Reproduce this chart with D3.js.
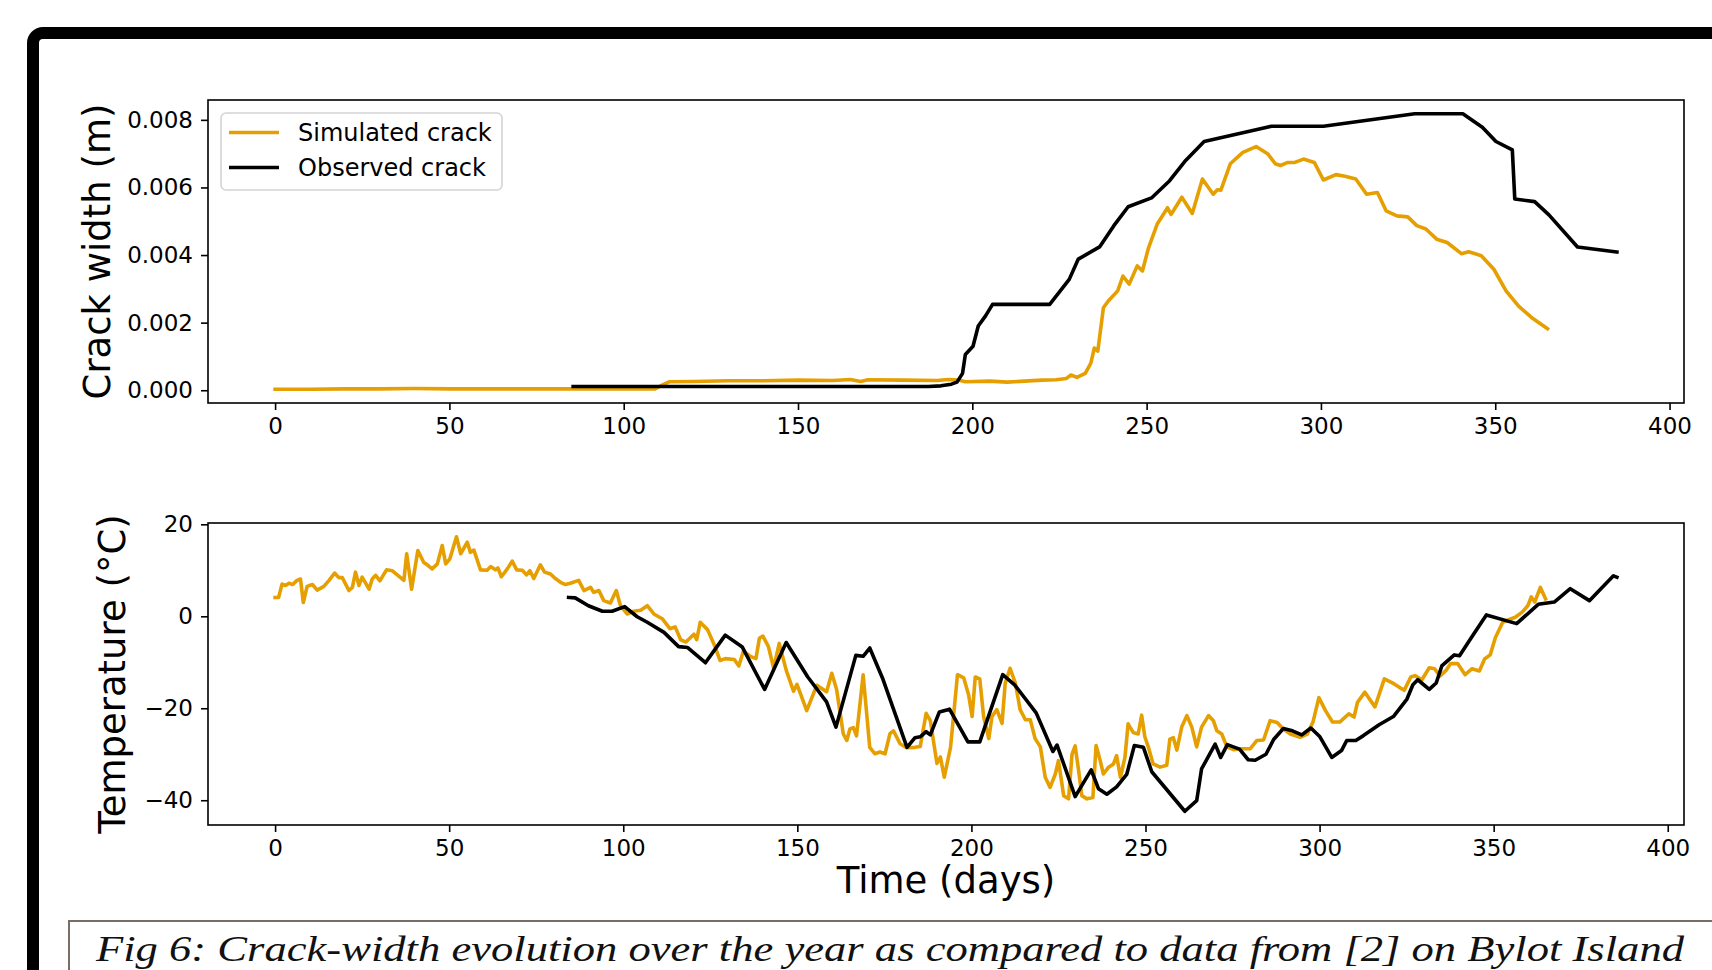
<!DOCTYPE html>
<html>
<head>
<meta charset="utf-8">
<script src="https://cdn.jsdelivr.net/npm/d3@7"></script>
<style>
  body { margin: 0; background: #fff; }
  svg { display: block; }
</style>
</head>
<body>
<svg id="fig"></svg>
<script>
// ---- data ----
var simCrackDays = [0, 10, 20, 30, 40, 50, 60, 70, 80, 90, 100, 109, 111, 113, 120, 130, 140, 150, 160, 165, 168, 170, 180, 190, 193, 196, 198, 205, 210, 215, 220, 224, 227, 228.3, 230, 232.4, 234, 235, 236, 237.6, 239, 241.7, 243.2, 245, 247.3, 248.8, 250.5, 253, 256, 257, 260.1, 263.1, 266, 269.1, 270.3, 271.3, 274, 277.6, 281.4, 284.8, 286.9, 288.4, 290.5, 292.5, 295, 298.1, 300.7, 304.3, 306.9, 310, 313.1, 316.2, 318.7, 321.8, 324.9, 327.5, 330.1, 333.2, 336.2, 340.3, 342.4, 346, 349.6, 353.1, 356.7, 360.8, 365];
var simCrackWidth = [0.00003, 0.00003, 0.00004, 0.00004, 0.00005, 0.00004, 0.00004, 0.00004, 0.00004, 0.00004, 0.00004, 0.00004, 0.00015, 0.00025, 0.00026, 0.00028, 0.00028, 0.00030, 0.00029, 0.00032, 0.00026, 0.00031, 0.00030, 0.00029, 0.00032, 0.00030, 0.00025, 0.00027, 0.00024, 0.00027, 0.00030, 0.00031, 0.00035, 0.00045, 0.00038, 0.0005, 0.0008, 0.00125, 0.00116, 0.00244, 0.00264, 0.00294, 0.00338, 0.00314, 0.00368, 0.00353, 0.0042, 0.00491, 0.0054, 0.0052, 0.00571, 0.00523, 0.00625, 0.0058, 0.00593, 0.00592, 0.0067, 0.00704, 0.00721, 0.00699, 0.0067, 0.00665, 0.00674, 0.00674, 0.00684, 0.00674, 0.00622, 0.00638, 0.00633, 0.00625, 0.0058, 0.00585, 0.00531, 0.00516, 0.00513, 0.00487, 0.00477, 0.00447, 0.00437, 0.00404, 0.0041, 0.00398, 0.00358, 0.00294, 0.00249, 0.00212, 0.00182];

var obsCrackDays = [85.5, 187.4, 191, 194, 195.6, 197.2, 198, 200.2, 201.7, 203.8, 205.8, 222.2, 227.8, 230.4, 236.5, 240.6, 244.7, 251.4, 256.6, 261.2, 266.5, 285.8, 300.7, 326.9, 340.7, 346.3, 350.2, 354.9, 355.6, 361.3, 365.4, 373.6, 384.9];
var obsCrackWidth = [0.00011, 0.00011, 0.00013, 0.00018, 0.00024, 0.0005, 0.00106, 0.0013, 0.0019, 0.0022, 0.00254, 0.00254, 0.00328, 0.00388, 0.00424, 0.00487, 0.00543, 0.00569, 0.0062, 0.0068, 0.00736, 0.00781, 0.00781, 0.00818, 0.00818, 0.00778, 0.00736, 0.00711, 0.00566, 0.00558, 0.00519, 0.00424, 0.00409];

var simTempDays = [0, 1, 2, 3, 4, 5, 6.3, 7.3, 8.1, 9.2, 10.7, 12.1, 14, 15.5, 17.1, 18.3, 19.3, 21.2, 22.2, 23.1, 24.1, 25, 27, 27.9, 28.9, 30.1, 32, 33.7, 37, 37.8, 39.2, 41, 42.7, 43.7, 45.1, 46.6, 48, 49, 50.2, 52.1, 53.3, 55.2, 56.1, 57.1, 59, 60.9, 61.9, 63.3, 64, 65, 66.7, 68.1, 69.4, 71, 72.2, 73.2, 74.3, 76.2, 77.4, 79.1, 80.5, 82, 83.4, 84.8, 87.2, 88.7, 90.6, 91.5, 93, 94.4, 96.3, 98, 99.2, 101.1, 103, 105, 106.9, 108.8, 111.3, 113.4, 114.9, 116.5, 118, 120.3, 121.1, 122.1, 124.2, 126.2, 127.8, 129.3, 131.9, 133.2, 134.5, 136.5, 138.1, 139.1, 140.1, 141.7, 143.2, 144.8, 146.8, 148.9, 149.9, 152.7, 155.6, 158.4, 159.9, 161.3, 163.2, 164.2, 165.1, 166.1, 167, 168.9, 170.8, 172.3, 173.7, 175.2, 176.6, 177.6, 179.5, 181.4, 183.8, 185.3, 187, 188.2, 190.1, 191.1, 192.2, 194, 196, 197.8, 199.2, 200.2, 201.1, 202.4, 203.5, 205, 205.9, 207.3, 208.8, 209.7, 211.1, 212.6, 214, 215.5, 216.9, 218.3, 219.8, 221.2, 222.6, 224.1, 225, 226.5, 227.9, 228.9, 229.8, 230.8, 231.7, 233.2, 234.9, 235.8, 237, 237.9, 239.3, 240.8, 241.7, 242.8, 244.1, 245, 246.5, 247.9, 248.9, 249.8, 250.8, 252.2, 254.2, 256.1, 257, 258, 259, 260.4, 261.9, 263.3, 264.7, 266.1, 268.1, 269.5, 270.5, 271.9, 273.4, 275.3, 277.2, 280.1, 282, 283.9, 285.8, 287.8, 289.6, 291.6, 294.4, 296.5, 298.1, 299.8, 301.7, 303.7, 305.8, 308.4, 309.9, 310.9, 313, 315.9, 318.6, 321.2, 322.8, 324.3, 326.2, 327.4, 329.4, 331.5, 333, 334.6, 336.4, 337.6, 339.7, 341.8, 343.8, 345.9, 347.4, 349, 350.5, 352.6, 354.1, 356.2, 358.2, 359.8, 360.8, 361.8, 363.4, 364.9];
var simTemp = [4.1, 4.1, 7.0, 6.7, 7.2, 6.9, 7.8, 8.1, 3.0, 6.5, 6.9, 5.7, 6.5, 7.8, 9.4, 8.4, 8.4, 5.6, 6.3, 9.6, 6.7, 8.5, 5.9, 8.1, 8.9, 7.7, 10.1, 9.9, 7.8, 13.6, 5.9, 14.3, 11.7, 11.2, 10.3, 11.4, 15.4, 11.4, 12.5, 17.3, 13.6, 16.1, 13.9, 14.4, 10.1, 10.0, 10.8, 10.1, 10.5, 8.6, 10.3, 12.0, 10.1, 10.0, 9.0, 9.9, 8.2, 11.2, 9.6, 9.2, 8.2, 7.4, 6.9, 7.2, 7.8, 5.6, 6.3, 5.2, 5.6, 3.4, 2.9, 5.6, 2.3, 0.5, 1.1, 1.3, 2.3, 0.5, -0.6, -2.7, -2.3, -5.1, -5.6, -3.9, -5.1, -1.3, -2.9, -6.3, -9.6, -9.2, -9.4, -10.8, -7.6, -8.7, -9.2, -4.8, -4.3, -6.6, -11.3, -5.9, -11.7, -16.3, -14.8, -20.5, -15.0, -16.4, -12.4, -16.0, -25.6, -27.0, -24.5, -24.2, -26.0, -12.7, -28.5, -29.9, -29.5, -29.9, -25.5, -24.9, -27.7, -28.6, -28.5, -28.3, -21.1, -22.7, -32.0, -30.6, -35.0, -28.5, -12.7, -13.4, -17.1, -21.8, -13.2, -13.6, -21.8, -26.6, -21.8, -20.3, -23.3, -14.6, -11.3, -14.5, -20.3, -22.5, -22.5, -26.6, -28.4, -35.0, -37.2, -34.3, -31.4, -39.0, -39.7, -30.0, -28.2, -33.6, -39.0, -39.7, -39.4, -28.1, -31.4, -34.3, -32.9, -32.1, -30.3, -35.0, -30.7, -23.4, -25.3, -25.6, -21.5, -26.2, -28.4, -32.1, -32.8, -32.4, -26.7, -26.4, -29.1, -24.1, -21.6, -24.1, -28.4, -24.1, -21.6, -22.7, -24.9, -25.6, -28.4, -29.0, -28.8, -28.8, -27.0, -26.9, -22.7, -23.1, -24.5, -25.6, -26.3, -25.6, -23.0, -17.7, -20.5, -23.0, -23.0, -21.2, -21.9, -18.7, -16.5, -19.7, -13.6, -14.6, -15.4, -16.1, -13.2, -12.9, -13.8, -11.2, -11.4, -13.0, -11.7, -10.3, -10.3, -12.7, -11.4, -11.9, -9.3, -8.4, -4.6, -1.3, -0.8, -0.2, 0.9, 2.3, 4.2, 3.1, 6.3, 3.8];

var obsTempDays = [84.3, 86.2, 90, 94, 96.8, 100.4, 104, 106.9, 111.7, 115.9, 118.5, 123.6, 129.3, 134.2, 140.6, 146.8, 153, 158.4, 161.1, 166.8, 168.9, 170.8, 174.6, 181.5, 183.8, 185.3, 187, 188.2, 190.8, 193.7, 199, 202.4, 209, 212.4, 218.6, 223.4, 224.6, 229.8, 234.4, 236.5, 238.9, 241.7, 244.6, 246.8, 249.4, 251.8, 261.3, 264.7, 266.1, 270, 271.6, 273.5, 277, 279.5, 281.5, 284.6, 286.8, 289.6, 292.2, 294.9, 297.5, 300.1, 303.5, 306.3, 307.8, 310.4, 312.5, 317.1, 321.2, 325.1, 326.8, 328.2, 331.5, 333.5, 335.1, 338.7, 340.2, 343.8, 347.9, 356.6, 362.8, 367.4, 372, 377.5, 384.4, 385.4];
var obsTemp = [4.1, 4.0, 2.3, 1.1, 1.1, 2.1, -0.1, -1.3, -3.5, -6.6, -6.8, -10.1, -4.1, -6.7, -15.9, -5.7, -13.2, -18.6, -24.1, -8.5, -8.7, -6.9, -13.7, -28.5, -26.4, -26.2, -25.1, -25.8, -20.8, -20.2, -27.3, -27.3, -12.7, -14.9, -21.0, -29.4, -28.0, -39.2, -33.4, -37.5, -38.7, -37.1, -34.4, -28.1, -28.5, -33.8, -42.4, -40.1, -33.2, -27.8, -30.7, -27.9, -28.9, -31.2, -31.3, -30.0, -26.8, -24.4, -24.9, -25.8, -24.3, -26.2, -30.7, -29.2, -27.0, -27.0, -26.0, -23.6, -21.8, -18.0, -14.9, -13.8, -15.9, -14.5, -10.8, -8.4, -8.6, -4.4, 0.3, -1.6, 2.6, 3.1, 6.0, 3.4, 8.8, 8.5];

var dayTicks = [0, 50, 100, 150, 200, 250, 300, 350, 400];
var crackTicks = [0, 0.002, 0.004, 0.006, 0.008];
var tempTicks = [-40, -20, 0, 20];
var seriesNames = ["Simulated crack", "Observed crack"];

// ---- drawing ----
var width = 1712;
var height = 970;
var orange = "#e69f00";
var font = "'DejaVu Sans', sans-serif";
var lineWidth = 3.6;

var svg = d3.select("#fig").attr("width", width).attr("height", height);

function zip(xs, ys) {
  return xs.map(function (d, i) { return [d, ys[i]]; });
}

function padded(values) {
  var ext = d3.extent(values);
  var m = (ext[1] - ext[0]) * 0.05;
  return [ext[0] - m, ext[1] + m];
}

function drawPanel(box, sim, obs, yTicks, yFormat, yLabel, labelX) {
  var g = svg.append("g");
  var x = d3.scaleLinear()
    .domain(padded(sim.map(function (d) { return d[0]; }).concat(obs.map(function (d) { return d[0]; }))))
    .range([box.left, box.right]);
  var y = d3.scaleLinear()
    .domain(padded(sim.map(function (d) { return d[1]; }).concat(obs.map(function (d) { return d[1]; }))))
    .range([box.bottom, box.top]);

  var line = d3.line()
    .x(function (d) { return x(d[0]); })
    .y(function (d) { return y(d[1]); });

  g.append("path").datum(sim)
    .attr("d", line)
    .attr("fill", "none")
    .attr("stroke", orange)
    .attr("stroke-width", lineWidth)
    .attr("stroke-linejoin", "round")
    .attr("stroke-linecap", "square");

  g.append("path").datum(obs)
    .attr("d", line)
    .attr("fill", "none")
    .attr("stroke", "#000")
    .attr("stroke-width", lineWidth)
    .attr("stroke-linejoin", "round")
    .attr("stroke-linecap", "square");

  var xAxis = g.append("g")
    .attr("transform", "translate(0," + box.bottom + ")")
    .call(d3.axisBottom(x).tickValues(dayTicks).tickFormat(d3.format("d")).tickSize(7).tickPadding(8));
  var yAxis = g.append("g")
    .attr("transform", "translate(" + box.left + ",0)")
    .call(d3.axisLeft(y).tickValues(yTicks).tickFormat(yFormat).tickSize(7).tickPadding(8));

  [xAxis, yAxis].forEach(function (a) {
    a.select(".domain").remove();
    a.selectAll(".tick line").attr("stroke", "#000").attr("stroke-width", 1.6);
    a.selectAll(".tick text")
      .attr("fill", "#000")
      .style("font-family", font)
      .style("font-size", "23px");
  });

  g.append("rect")
    .attr("x", box.left)
    .attr("y", box.top)
    .attr("width", box.right - box.left)
    .attr("height", box.bottom - box.top)
    .attr("fill", "none")
    .attr("stroke", "#000")
    .attr("stroke-width", 1.6);

  g.append("text")
    .attr("transform", "translate(" + labelX + "," + ((box.top + box.bottom) / 2) + ") rotate(-90)")
    .attr("text-anchor", "middle")
    .style("font-family", font)
    .style("font-size", "37px")
    .attr("fill", "#000")
    .text(yLabel);

  return {g: g, x: x, y: y};
}

// outer frame
svg.append("rect")
  .attr("x", 33).attr("y", 33)
  .attr("width", 1900).attr("height", 1100)
  .attr("rx", 10)
  .attr("fill", "none")
  .attr("stroke", "#000")
  .attr("stroke-width", 12);

var crackPanel = drawPanel({left: 208, right: 1684, top: 100, bottom: 403},
  zip(simCrackDays, simCrackWidth), zip(obsCrackDays, obsCrackWidth),
  crackTicks, d3.format(".3f"), "Crack width (m)", 110);

var tempPanel = drawPanel({left: 208, right: 1684, top: 523, bottom: 825},
  zip(simTempDays, simTemp), zip(obsTempDays, obsTemp),
  tempTicks, d3.format("d"), "Temperature (\u00b0C)", 125);

svg.append("text")
  .attr("x", 946)
  .attr("y", 893)
  .attr("text-anchor", "middle")
  .style("font-family", font)
  .style("font-size", "37px")
  .attr("fill", "#000")
  .text("Time (days)");

// legend
var legend = crackPanel.g.append("g").attr("transform", "translate(221,113)");
legend.append("rect")
  .attr("width", 281)
  .attr("height", 77)
  .attr("rx", 5)
  .attr("fill", "#fff")
  .attr("fill-opacity", 0.8)
  .attr("stroke", "#d4d4d4")
  .attr("stroke-width", 1.6);

var legendItem = legend.selectAll("g.item")
  .data(seriesNames)
  .enter()
  .append("g")
  .attr("class", "item")
  .attr("transform", function (d, i) { return "translate(0," + (19.5 + i * 35) + ")"; });

legendItem.append("line")
  .attr("x1", 8).attr("x2", 58)
  .attr("stroke", function (d, i) { return i === 0 ? orange : "#000"; })
  .attr("stroke-width", lineWidth);

legendItem.append("text")
  .attr("x", 77)
  .attr("dy", "0.36em")
  .style("font-family", font)
  .style("font-size", "24px")
  .attr("fill", "#000")
  .text(function (d) { return d; });

// caption (the page cuts it near the bottom edge, keep glyphs inside)
svg.append("rect")
  .attr("x", 69).attr("y", 921)
  .attr("width", 1700).attr("height", 200)
  .attr("fill", "none")
  .attr("stroke", "#7a6d65")
  .attr("stroke-width", 2);

svg.append("text")
  .attr("x", 96)
  .attr("y", 961)
  .attr("textLength", 1588)
  .attr("lengthAdjust", "spacingAndGlyphs")
  .style("font-family", "'Liberation Serif', serif")
  .style("font-style", "italic")
  .style("font-size", "36px")
  .attr("fill", "#111")
  .text("Fig 6: Crack-width evolution over the year as compared to data from [2] on Bylot Island");
</script>
</body>
</html>
